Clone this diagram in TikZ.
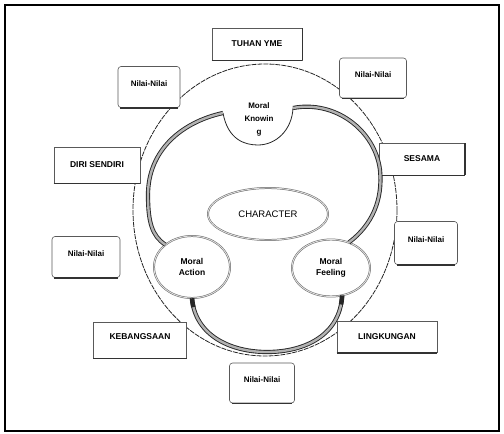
\documentclass[tikz,border=0pt]{standalone}
\usepackage{fontspec}
\setmainfont{Liberation Sans}
\usetikzlibrary{shapes.geometric}
\begin{document}
\begin{tikzpicture}[x=1pt,y=-1pt,
  labelbox/.style={draw=black!65, line width=0.6pt, fill=white, inner sep=0pt, font=\bfseries\fontsize{8.5}{9}\selectfont},
  sqbox/.style={labelbox},
  rdbox/.style={labelbox, rounded corners=3pt, text depth=7pt, font=\bfseries\fontsize{8}{9}\selectfont},
  shadowline/.style={line width=1.4pt, black!80},
  ovalnode/.style={ellipse, draw=black!60, double=black!12, double distance=0.9pt, line width=0.5pt, fill=white, inner sep=0pt, align=center},
  tube/.style={draw=black!85, double=black!30, double distance=2.4pt, line width=0.9pt},
  tubecap/.style={line width=4.5pt, black!85, dash pattern=on 9pt off 2000pt},
  bigring/.style={draw=black!85, line width=0.8pt, dash pattern=on 5pt off 1pt},
  lobe/.style={draw=black!85, line width=0.8pt},
]
\useasboundingbox (0,0) rectangle (504,434);
\draw[line width=1.6pt] (5,5) rectangle (499,431);

% outer ring
\draw[bigring] (265,210) ellipse [x radius=132, y radius=146];

% boxes
\node[sqbox, minimum width=90, minimum height=32] (tuhan) at (257,44) {TUHAN YME};
\node[rdbox, minimum width=62, minimum height=41] (n1) at (149,87) {Nilai-Nilai};
\node[rdbox, minimum width=67, minimum height=40] (n2) at (373,78) {Nilai-Nilai};
\node[sqbox, minimum width=86, minimum height=36] (diri) at (97,165) {DIRI SENDIRI};
\node[sqbox, minimum width=85, minimum height=32] (sesama) at (422,159) {SESAMA};
\node[rdbox, minimum width=68, minimum height=41] (n3) at (86,257) {Nilai-Nilai};
\node[rdbox, minimum width=63, minimum height=43] (n4) at (426,243) {Nilai-Nilai};
\node[sqbox, minimum width=93, minimum height=36, text depth=6pt] (bangsa) at (140,340) {KEBANGSAAN};
\node[sqbox, minimum width=100, minimum height=31] (lingk) at (387,337) {LINGKUNGAN};
\node[rdbox, minimum width=65, minimum height=40] (n5) at (262,383) {Nilai-Nilai};

\foreach \n in {tuhan,diri,sesama,bangsa,lingk}
  \draw[shadowline] (\n.south west) -- (\n.south east);
\foreach \n in {tuhan,sesama}
  \draw[shadowline] (\n.south east) -- (\n.north east);
\foreach \n in {n1,n2,n3,n4,n5}
  \draw[shadowline, shorten <=2.5pt, shorten >=2.5pt] (\n.south west) -- (\n.south east);

% inner components
\node[ovalnode, minimum width=120, minimum height=52, font=\fontsize{9.5}{11}\selectfont] (char) at (268,214) {CHARACTER};
\node[ovalnode, minimum width=76, minimum height=62, font=\bfseries\fontsize{8.5}{11}\selectfont] (ma) at (192,267) {Moral\\Action};
\node[ovalnode, minimum width=78, minimum height=57, font=\bfseries\fontsize{8.5}{11}\selectfont] (mf) at (331,268) {Moral\\Feeling};
\node[align=center, inner sep=0pt, font=\bfseries\fontsize{8}{13}\selectfont] (mk) at (259,119) {Moral\\Knowin\\g};
\coordinate (mkl) at (223,113);
\coordinate (mkr) at (293,108);

% knowing lobe
\draw[lobe] (mkl) .. controls (228,140) and (245,145) .. (258,145) .. controls (276,145) and (292,130) .. (mkr);

% tubes
\draw[tube] (mkl) .. controls (182,122) and (148,150) .. (148,195) .. controls (148,222) and (152,236) .. (ma.140);
\draw[tube] (mkr) .. controls (335,100) and (375,130) .. (380,170) .. controls (383,200) and (372,225) .. (mf.55);
\draw[tube] (ma.-90) .. controls (195,335) and (230,352) .. (267,352) .. controls (305,352) and (340,335) .. (mf.-68);
\draw[tubecap] (ma.-90) .. controls (195,335) and (230,352) .. (267,352);
\draw[tubecap] (mf.-68) .. controls (340,335) and (305,352) .. (267,352);
\end{tikzpicture}
\end{document}
